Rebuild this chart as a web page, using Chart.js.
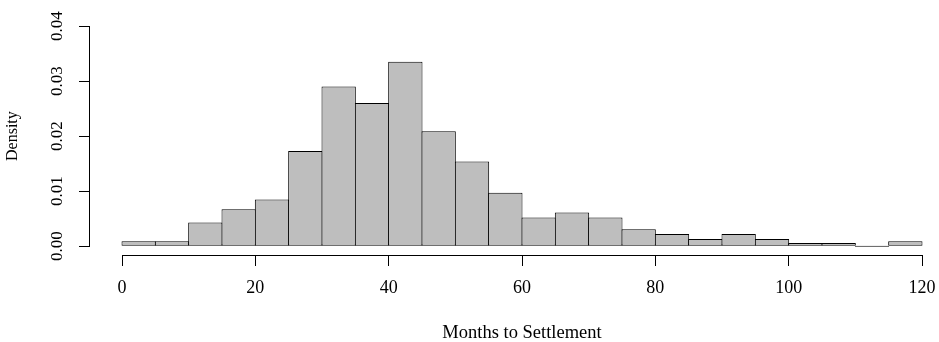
<!DOCTYPE html>
<html>
<head>
<meta charset="utf-8">
<script src="https://cdn.jsdelivr.net/npm/chart.js@4"></script>
<style>
  html, body { margin: 0; padding: 0; background: #fff; }
  #wrap { width: 939px; height: 342px; overflow: hidden; }
</style>
</head>
<body>
<div id="wrap"><canvas id="hist" width="960" height="342"></canvas></div>
<script>
// histogram breaks (width 5) and density per bin
const breaks = [0, 5, 10, 15, 20, 25, 30, 35, 40, 45, 50, 55, 60, 65, 70, 75, 80, 85, 90, 95, 100, 105, 110, 115, 120];
const densities = [0.0009, 0.0009, 0.0043, 0.0067, 0.0085, 0.0173, 0.0290, 0.0260, 0.0335, 0.0209, 0.0154, 0.0097,
  0.0052, 0.0061, 0.0052, 0.0031, 0.0022, 0.0013, 0.0022, 0.0013, 0.0006, 0.0006, 0, 0.0009];
const xTicks = [0, 20, 40, 60, 80, 100, 120];
const yTicks = [0, 0.01, 0.02, 0.03, 0.04];
const xTitle = 'Months to Settlement';
const yTitle = 'Density';

const SERIF = '"Liberation Serif", "Times New Roman", serif';
Chart.defaults.color = '#000';
Chart.defaults.font = { family: SERIF, size: 17 };

// R pads the axis range by 4% on each side
const pad = (lo, hi) => (hi - lo) * 0.04;
const xPad = pad(xTicks[0], xTicks[xTicks.length - 1]);
const yPad = pad(yTicks[0], yTicks[yTicks.length - 1]);

const points = densities.map((d, i) => ({ x: (breaks[i] + breaks[i + 1]) / 2, y: d }));

// base-graphics style axis lines, only spanning the tick range
const rAxes = {
  id: 'rAxes',
  afterDraw(chart) {
    const { ctx, chartArea, scales: { x, y } } = chart;
    ctx.save();
    ctx.strokeStyle = '#000';
    ctx.lineWidth = 1;
    ctx.beginPath();
    const yb = Math.round(chartArea.bottom) + 0.5;
    ctx.moveTo(Math.round(x.getPixelForValue(xTicks[0])), yb);
    ctx.lineTo(Math.round(x.getPixelForValue(xTicks[xTicks.length - 1])) + 1, yb);
    const xl = Math.round(chartArea.left) - 0.5;
    ctx.moveTo(xl, Math.round(y.getPixelForValue(yTicks[0])) + 1);
    ctx.lineTo(xl, Math.round(y.getPixelForValue(yTicks[yTicks.length - 1])));
    ctx.stroke();
    ctx.restore();
  }
};

new Chart(document.getElementById('hist'), {
  type: 'bar',
  data: {
    datasets: [{
      data: points,
      backgroundColor: '#bebebe',
      borderColor: '#000',
      borderWidth: 1,
      borderSkipped: false,
      minBarLength: 1,
      barPercentage: 1.03,
      categoryPercentage: 1
    }]
  },
  options: {
    responsive: false,
    animation: false,
    layout: { padding: { top: 15, right: 6, left: 0, bottom: 0 } },
    plugins: { legend: { display: false }, tooltip: { enabled: false } },
    scales: {
      x: {
        type: 'linear',
        offset: false,
        min: xTicks[0] - xPad,
        max: xTicks[xTicks.length - 1] + xPad,
        afterBuildTicks: s => { s.ticks = xTicks.map(v => ({ value: v })); },
        afterFit: s => { s.height = 87; },
        grid: { display: true, offset: false, drawOnChartArea: false, drawTicks: true, tickLength: 11, color: '#000' },
        border: { display: false },
        ticks: { padding: 11, maxRotation: 0, font: { size: 18 }, callback: v => String(v) },
        title: { display: true, text: xTitle, font: { size: 18.5, lineHeight: 1 }, padding: { top: 0, bottom: 0 } }
      },
      y: {
        min: yTicks[0] - yPad,
        max: yTicks[yTicks.length - 1] + yPad,
        afterBuildTicks: s => { s.ticks = yTicks.map(v => ({ value: v })); },
        afterFit: s => { s.width = 90; },
        grid: { display: true, drawOnChartArea: false, drawTicks: true, tickLength: 11, color: '#000' },
        border: { display: false },
        ticks: { padding: 7, minRotation: 90, maxRotation: 90, crossAlign: 'center', callback: v => v.toFixed(2) },
        title: { display: true, text: yTitle, font: { size: 16 }, padding: { top: 3, bottom: 0 } }
      }
    }
  },
  plugins: [rAxes]
});
</script>
</body>
</html>
